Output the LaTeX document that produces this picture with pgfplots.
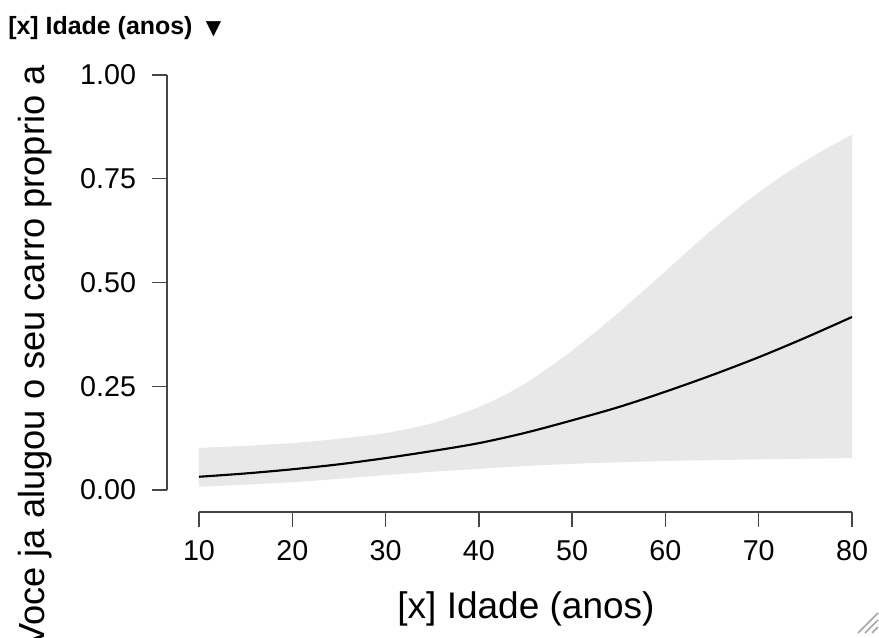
\documentclass[border=0pt]{standalone}
\usepackage{fontspec}
\setmainfont{Liberation Sans}
\newfontfamily\dejavu{DejaVu Sans}
\usepackage{pgfplots}
\pgfplotsset{compat=1.18}
\usepgfplotslibrary{fillbetween}
\definecolor{bandcol}{RGB}{232,232,232}
\definecolor{axcol}{RGB}{70,70,70}
\begin{document}
\begin{tikzpicture}
\begin{axis}[
  at={(125.25pt,93.75pt)}, anchor=south west,
  scale only axis, width=513.75pt, height=327.75pt,
  xmin=6.57, xmax=80, ymin=-0.0529, ymax=1,
  axis x line*=bottom, axis y line*=left,
  axis line style={draw=none},
  xtick={10,20,...,80}, ytick={0,0.25,0.5,0.75,1},
  tick align=outside, major tick length=11.25pt,
  tick style={axcol, line width=1.1pt},
  /pgf/number format/assume math mode=true,
  yticklabel style={/pgf/number format/fixed, /pgf/number format/precision=2, /pgf/number format/fixed zerofill, font=\fontsize{21.5pt}{25pt}\selectfont, xshift=-8.5pt},
  xticklabel style={font=\fontsize{21.5pt}{25pt}\selectfont, yshift=-6.5pt},
  clip=false,
]
\addplot[name path=up, draw=none, smooth] coordinates {
(10,0.1015) (12.5,0.104) (15,0.1063) (17.5,0.110) (20,0.113) (22.5,0.118) (25,0.1235) (27.5,0.130) (30,0.137) (32.5,0.148) (35,0.161) (37.5,0.179) (40,0.200) (42.5,0.226) (45,0.257) (47.5,0.295) (50,0.336) (52.5,0.381) (55,0.428) (57.5,0.4775) (60,0.527) (62.5,0.578) (65,0.627) (67.5,0.674) (70,0.717) (72.5,0.757) (75,0.793) (77.5,0.826) (80,0.856)};
\addplot[name path=lo, draw=none, smooth] coordinates {
(10,0.008) (15,0.013) (20,0.019) (25,0.027) (30,0.036) (35,0.044) (40,0.051) (45,0.058) (50,0.063) (55,0.067) (60,0.070) (65,0.072) (70,0.074) (75,0.0755) (80,0.077)};
\addplot[bandcol, draw=none] fill between[of=up and lo];
\addplot[black, line width=1.6pt, smooth] coordinates {
(10,0.032) (15,0.040) (20,0.050) (25,0.062) (30,0.077) (35,0.094) (40,0.113) (45,0.138) (50,0.168) (55,0.200) (60,0.237) (65,0.277) (70,0.320) (75,0.367) (80,0.417)};
\draw[axcol, line width=1.1pt] (axis cs:10,-0.0529) -- (axis cs:80,-0.0529);
\draw[axcol, line width=1.1pt] (axis cs:6.57,0) -- (axis cs:6.57,1);
\end{axis}
\begin{scope}[x=0.75pt,y=0.75pt]
\node[anchor=base west, inner sep=0, font=\fontsize{18.7pt}{22pt}\selectfont\bfseries] at (8,602) {[x] Idade (anos)\hspace{10pt}{\dejavu\fontsize{15pt}{16pt}\selectfont ▼}};
\node[anchor=base, inner sep=0, font=\fontsize{27.75pt}{32pt}\selectfont] at (526,19) {[x] Idade (anos)};
\node[rotate=90, anchor=base east, inner sep=0, font=\fontsize{27.2pt}{32pt}\selectfont] at (45,572) {Voce ja alugou o seu carro proprio a};
\draw[gray!70, line width=1.1pt] (858,4) -- (878,24) (865,4) -- (878,17) (872,4) -- (878,10);
\end{scope}
\pgfresetboundingbox
\useasboundingbox (0pt,0pt) rectangle (659.25pt,477.75pt);
\end{tikzpicture}
\end{document}
